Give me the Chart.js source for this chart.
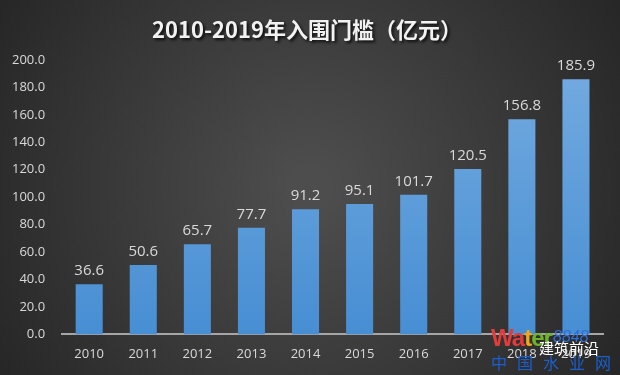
<!DOCTYPE html>
<html>
<head>
<meta charset="utf-8">
<script src="https://cdn.jsdelivr.net/npm/chart.js@4"></script>
<style>
  html, body { margin: 0; padding: 0; background: #333; }
  #wrap { position: relative; width: 620px; height: 375px; }
  #wm { position: absolute; left: 491px; top: 324px; font-family: "Liberation Sans", sans-serif; pointer-events: none; }
  #wm .w { font-size: 24px; font-weight: bold; letter-spacing: -1px; }
  #wm .n { position: absolute; left: 62px; top: 4px; font-size: 16px; color: #2e6fd8; font-style: italic; }
  #wm .c { position: absolute; left: 0px; top: 26px; font-size: 16px; color: #1a5fd0; letter-spacing: 10px; white-space: nowrap; font-family: "Noto Sans CJK SC"; }
  #wm .j { position: absolute; left: 48px; top: 13px; font-size: 15px; color: #fff; white-space: nowrap; font-family: "Noto Sans CJK SC"; }
</style>
</head>
<body>
<div id="wrap">
  <canvas id="c" width="620" height="375"></canvas>
  <div id="wm">
    <span class="w"><span style="color:#e23b3b">W</span><span style="color:#e23b3b">a</span><span style="color:#f2a81d">t</span><span style="color:#6fb52c">e</span><span style="color:#6fb52c">r</span></span>
    <div class="n">8848</div>
    <div class="j">建筑前沿</div>
    <div class="c">中国水业网</div>
  </div>
</div>
<script>
const years = ['2010', '2011', '2012', '2013', '2014', '2015', '2016', '2017', '2018', '2019'];
const threshold = [36.6, 50.6, 65.7, 77.7, 91.2, 95.1, 101.7, 120.5, 156.8, 185.9];
const titleText = '2010-2019年入围门槛（亿元）';

Chart.defaults.font.family = "'Open Sans', 'Noto Sans', sans-serif";
Chart.defaults.color = '#d9d9d9';

// dark radial background + title
const bgPlugin = {
  id: 'bg',
  beforeDraw(chart) {
    const ctx = chart.ctx;
    const w = chart.width, h = chart.height;
    ctx.save();
    const g = ctx.createRadialGradient(w / 2, h / 2, 20, w / 2, h / 2, w * 0.62);
    g.addColorStop(0, '#4d4d4d');
    g.addColorStop(1, '#242424');
    ctx.fillStyle = g;
    ctx.fillRect(0, 0, w, h);

    ctx.font = "bold 22px 'Noto Sans CJK SC', sans-serif";
    ctx.textAlign = 'center';
    ctx.textBaseline = 'middle';
    ctx.shadowColor = 'rgba(0,0,0,0.8)';
    ctx.shadowOffsetX = 2;
    ctx.shadowOffsetY = 2;
    ctx.shadowBlur = 3;
    ctx.fillStyle = '#f2f2f2';
    ctx.fillText(titleText, w / 2 - 3, 30);
    ctx.restore();
  }
};

// value labels above bars
const labelPlugin = {
  id: 'vals',
  afterDatasetsDraw(chart) {
    const ctx = chart.ctx;
    const meta = chart.getDatasetMeta(0);
    ctx.save();
    ctx.font = "15px 'Open Sans', 'Noto Sans', sans-serif";
    ctx.fillStyle = '#d9d9d9';
    ctx.textAlign = 'center';
    ctx.textBaseline = 'bottom';
    meta.data.forEach((bar, i) => {
      ctx.fillText(threshold[i].toFixed(1), bar.x, bar.y - 6);
    });
    ctx.restore();
  }
};

new Chart(document.getElementById('c'), {
  type: 'bar',
  data: {
    labels: years,
    datasets: [{
      data: threshold,
      backgroundColor: (c) => {
        const area = c.chart.chartArea;
        if (!area) return '#5b9bd5';
        const g = c.chart.ctx.createLinearGradient(0, area.top, 0, area.bottom);
        g.addColorStop(0, '#74abe0');
        g.addColorStop(1, '#478ed3');
        return g;
      },
      borderWidth: 0,
      categoryPercentage: 1,
      barPercentage: 0.5
    }]
  },
  options: {
    responsive: false,
    animation: false,
    layout: { padding: { top: 60, right: 17, left: -5, bottom: 1 } },
    plugins: {
      legend: { display: false },
      tooltip: { enabled: false }
    },
    scales: {
      x: {
        grid: { display: false, drawTicks: false },
        border: { color: '#a6a6a6', width: 2 },
        ticks: { color: '#d9d9d9', font: { size: 13 }, padding: 12 }
      },
      y: {
        min: 0,
        max: 200,
        grid: { display: false, drawTicks: false },
        border: { display: false },
        ticks: {
          stepSize: 20,
          color: '#d9d9d9',
          font: { size: 13 },
          padding: 17,
          callback: (v) => v.toFixed(1)
        }
      }
    }
  },
  plugins: [bgPlugin, labelPlugin]
});
</script>
</body>
</html>
